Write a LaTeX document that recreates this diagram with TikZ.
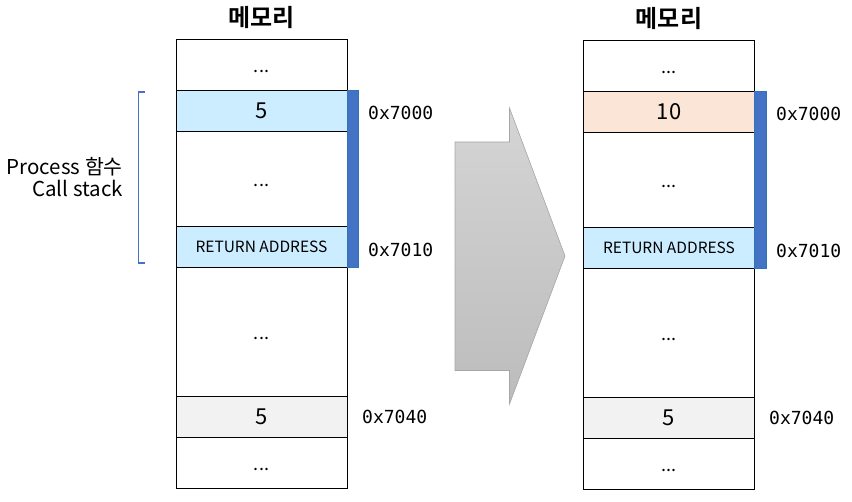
\documentclass[tikz,border=0pt]{standalone}
\usepackage{fontspec}
\setmainfont{Noto Sans CJK KR}[BoldFont={Noto Sans CJK KR Bold}]
\newfontfamily\addrfont{DejaVu Sans Mono}
\usetikzlibrary{positioning}
\definecolor{cellblue}{HTML}{CCECFF}
\definecolor{cellorange}{HTML}{FBE5D6}
\definecolor{cellgray}{HTML}{F2F2F2}
\definecolor{barblue}{HTML}{4472C4}
\definecolor{bardark}{HTML}{2E75B6}
\definecolor{arrowtop}{HTML}{D5D5D5}
\definecolor{arrowbot}{HTML}{BCBCBC}
\definecolor{arrowline}{HTML}{A6A6A6}
\tikzset{
	cell/.style={draw, line width=1pt, minimum width=171pt, inner sep=0pt, outer sep=0pt, font=\fontsize{22}{26}\selectfont},
	dots/.style={cell, font=\fontsize{18}{22}\selectfont, text height=15pt, text depth=0pt},
	retaddr/.style={cell, fill=cellblue, font=\fontsize{15.5}{20}\selectfont},
	addr/.style={inner sep=0pt, font=\addrfont\fontsize{18}{20}\selectfont},
	title/.style={inner sep=0pt, font=\bfseries\fontsize{24}{26}\selectfont}
}
\begin{document}
\begin{tikzpicture}[x=1pt, y=-1pt]
	\useasboundingbox (0,0) rectangle (852,502);
	
	% before the call
	\node (l1) [dots, minimum height=50.5pt, anchor=north] at (261.5,40) {...};
	\node (l2) [cell, fill=cellblue, minimum height=41pt, below=0pt of l1] {5};
	\node (l3) [dots, minimum height=95.5pt, below=0pt of l2] {...};
	\node (l4) [retaddr, minimum height=40.5pt, below=0pt of l3] {RETURN ADDRESS};
	\node (l5) [dots, minimum height=129pt, below=0pt of l4] {...};
	\node (l6) [cell, fill=cellgray, minimum height=41pt, below=0pt of l5] {5};
	\node (l7) [dots, minimum height=51pt, below=0pt of l6] {...};
	\node (ltitle) [title, above=11pt of l1] {메모리};
	\draw [bardark, fill=barblue, line width=0.6pt] (l2.north east) rectangle ([xshift=11.5pt]l4.south east);
	\node (la1) [addr, right=21pt of l2, yshift=-2pt] {0x7000};
	\node (la2) [addr, right=21pt of l4, yshift=-3pt] {0x7010};
	\node (la3) [addr, right=15pt of l6] {0x7040};
	
	% call stack bracket
	\coordinate (btop) at (145,92);
	\coordinate (bbot) at (145,263);
	\draw [barblue, line width=1.5pt] (btop) -| ([xshift=-6.5pt]bbot) -- (bbot);
	\node (stack) [align=right, anchor=east, inner sep=0pt, font=\fontsize{20.5}{22}\selectfont] at (123,177.5) {Process 함수\\Call stack};
	
	% arrow
	\path [draw=arrowline, line width=0.6pt, top color=arrowtop, bottom color=arrowbot] (455,142) -- (509.5,142) -- (509.5,108) -- (565,256) -- (509.5,404) -- (509.5,370.5) -- (455,370.5) -- cycle;
	
	% after the call
	\node (r1) [dots, minimum height=50.5pt, right=236.5pt of l1, yshift=-1pt] {...};
	\node (r2) [cell, fill=cellorange, minimum height=41pt, below=0pt of r1] {10};
	\node (r3) [dots, minimum height=95.5pt, below=0pt of r2] {...};
	\node (r4) [retaddr, minimum height=40.5pt, below=0pt of r3] {RETURN ADDRESS};
	\node (r5) [dots, minimum height=129pt, below=0pt of r4] {...};
	\node (r6) [cell, fill=cellgray, minimum height=41pt, below=0pt of r5] {5};
	\node (r7) [dots, minimum height=51pt, below=0pt of r6] {...};
	\node (rtitle) [title, above=11pt of r1] {메모리};
	\draw [bardark, fill=barblue, line width=0.6pt] (r2.north east) rectangle ([xshift=11.5pt]r4.south east);
	\node (ra1) [addr, right=21.5pt of r2, yshift=-2pt] {0x7000};
	\node (ra2) [addr, right=21.5pt of r4, yshift=-3pt] {0x7010};
	\node (ra3) [addr, right=14.5pt of r6] {0x7040};
\end{tikzpicture}
\end{document}
